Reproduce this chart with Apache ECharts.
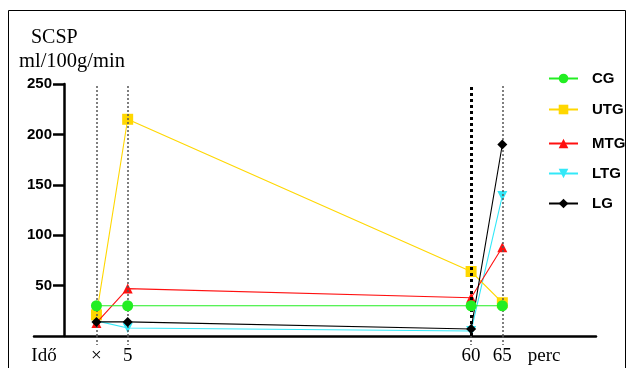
<!DOCTYPE html>
<html><head><meta charset="utf-8">
<script src="https://cdn.jsdelivr.net/npm/echarts@6/dist/echarts.min.js"></script>
<style>html,body{margin:0;padding:0;background:#fff}#c{width:630px;height:368px}</style>
</head><body><div id="c"></div>
<script>
const timePoints = [0, 5, 60, 65];
const tickLabels = ['Idő', '×', '5', '60', '65', 'perc'];
const tickValues = [-8.4, 0, 5, 60, 65, 71.7];
const CG  = [30, 30, 30, 30];
const UTG = [21, 215, 64, 33];
const MTG = [13, 47, 38, 88];
const LTG = [15, 8, 5, 139];
const LG  = [14, 14, 7, 190];
const yTicks = [50, 100, 150, 200, 250];

const serif = 'Liberation Serif, Times New Roman, serif';
const sans = 'Liberation Sans, Arial, sans-serif';

function pts(v){ return timePoints.map((t,i)=>[t, v[i]]); }

const chart = echarts.init(document.getElementById('c'), null, {renderer:'canvas'});
const seriesDefs = [
  {name:'CG', data:CG, color:'#22ee22', symbol:'circle', size:11, z:6},
  {name:'UTG', data:UTG, color:'#ffd700', symbol:'rect', size:11, z:3},
  {name:'MTG', data:MTG, color:'#ff1010', symbol:'triangle', size:10, z:4},
  {name:'LTG', data:LTG, color:'#33e8f8', symbol:'triangle', size:10, rotate:180, z:2},
  {name:'LG', data:LG, color:'#000000', symbol:'diamond', size:10, z:5}
];
const legendTops = [71, 102, 136, 166, 196];

const series = seriesDefs.map(s => ({
  type:'line', name:s.name, data:pts(s.data), symbol:s.symbol, symbolSize:s.size,
  symbolRotate: s.rotate || 0, z:s.z,
  lineStyle:{color:s.color, width:1.1}, itemStyle:{color:s.color}, animation:false,
  emphasis:{disabled:true}
}));
series.push({
  type:'line', name:'guides', data:[], silent:true, z:1,
  markLine:{
    silent:true, symbol:['none','none'], label:{show:false}, animation:false,
    data:[
      {xAxis:0, lineStyle:{color:'#555', width:1.5, type:[2,2]}},
      {xAxis:5, lineStyle:{color:'#555', width:1.5, type:[2,2]}},
      {xAxis:60, lineStyle:{color:'#000', width:3, type:[3,3]}},
      {xAxis:65, lineStyle:{color:'#555', width:1.5, type:[2,2]}}
    ]
  }
});

const legends = seriesDefs.map((s,i)=>({
  data:[s.name], orient:'vertical', left:548, top:legendTops[i], padding:0,
  itemWidth:29, itemHeight:12, selectedMode:false,
  textStyle:{fontFamily:sans, fontWeight:'bold', fontSize:15, color:'#000', padding:[0,0,0,9]}
}));

chart.setOption({
  animation:false,
  title:[
    {text:'SCSP', left:26, top:23, textStyle:{fontFamily:serif, fontWeight:'normal', fontSize:20, color:'#000'}},
    {text:'ml/100g/min', left:14, top:46, textStyle:{fontFamily:serif, fontWeight:'normal', fontSize:20.5, color:'#000'}}
  ],
  legend:legends,
  grid:{left:34, right:34, top:84, bottom:32, containLabel:false},
  xAxis:{
    type:'value', min:-10, max:80,
    axisLine:{show:true, onZero:false, lineStyle:{color:'#000', width:2.5}},
    axisTick:{show:true, customValues:[0,5,60,65], length:9, lineStyle:{color:'#555', width:1.5, type:[2,2]}},
    axisLabel:{show:true, customValues:tickValues, margin:11,
      formatter:(v)=>{ const i = tickValues.findIndex(t=>Math.abs(t-v)<1e-6); return i>=0 ? tickLabels[i] : ''; },
      fontFamily:serif, fontSize:19, color:'#000'},
    splitLine:{show:false}
  },
  yAxis:{
    type:'value', min:0, max:250, interval:50, offset:-30,
    axisLine:{show:true, onZero:false, lineStyle:{color:'#000', width:2.5}},
    axisTick:{show:true, length:11, lineStyle:{color:'#000', width:2.5}},
    axisLabel:{show:true, margin:12, showMinLabel:false, fontFamily:sans, fontWeight:'bold', fontSize:15, color:'#000',
      formatter:(v)=> yTicks.includes(v) ? String(v) : ''},
    splitLine:{show:false}
  },
  graphic:[{type:'rect', shape:{x:8.5, y:10.5, width:617, height:400}, style:{fill:'none', stroke:'#000', lineWidth:1}, silent:true, z:-1}],
  series:series
});
</script></body></html>
